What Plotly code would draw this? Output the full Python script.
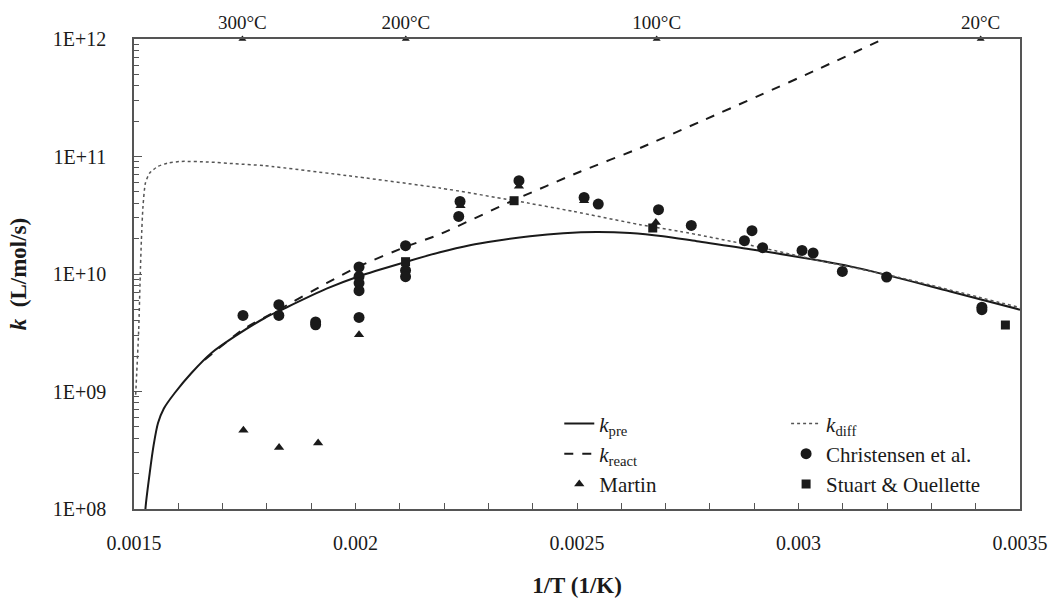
import plotly.graph_objects as go

# ---------------- data ----------------
# k_pre (solid)
pre_x = [0.001525, 0.0015258, 0.0015355, 0.0015445, 0.0015542, 0.0015671, 0.0015919,
         0.0016297, 0.0016748, 0.0017275, 0.0017952, 0.0018291, 0.0019346, 0.002008,
         0.0021153, 0.0021906, 0.0022583, 0.0023186, 0.0023939, 0.0024691, 0.0025445,
         0.0026197, 0.0026943, 0.0027704, 0.0028908, 0.0031167, 0.0033426, 0.0035]
pre_y = [7.0e7, 1.0e8, 2.03e8, 3.526e8, 5.39e8, 7.14e8, 9.71e8,
         1.437e9, 2.127e9, 2.943e9, 4.222e9, 4.872e9, 7.50e9, 9.58e9,
         1.273e10, 1.533e10, 1.759e10, 1.92e10, 2.097e10, 2.224e10, 2.278e10,
         2.233e10, 2.097e10, 1.901e10, 1.626e10, 1.161e10, 7.11e9, 4.97e9]

# k_react (dashed)
react_x = [0.0016597, 0.0017455, 0.0018291, 0.0019346, 0.002008, 0.0021153, 0.0021906,
           0.0023561, 0.0025068, 0.0026423, 0.0027779, 0.0029134, 0.0030489, 0.0031919]
react_y = [1.865e9, 3.357e9, 5.02e9, 8.35e9, 1.161e10, 1.717e10, 2.181e10,
           4.23e10, 7.42e10, 1.181e11, 1.978e11, 3.324e11, 5.64e11, 1.0e12]

# k_diff (dotted)
diff_x = [0.0015038, 0.0015106, 0.001514, 0.0015167, 0.0015203, 0.0015258, 0.0015355,
          0.0015542, 0.0015768, 0.0016071, 0.0016672, 0.0017275, 0.0017952, 0.0020008,
          0.0021906, 0.0023561, 0.0024917, 0.0026423, 0.0027327, 0.0028908, 0.0030331,
          0.0032296, 0.0035]
diff_y = [9.39e8, 3.357e9, 9.54e9, 1.958e10, 3.762e10, 5.95e10, 7.24e10,
          8.24e10, 8.80e10, 9.08e10, 8.98e10, 8.68e10, 8.35e10, 6.73e10,
          5.39e10, 4.23e10, 3.41e10, 2.628e10, 2.305e10, 1.759e10, 1.336e10,
          9.30e9, 5.17e9]

# Christensen et al. (circles)
chr_x = [0.001746, 0.001827, 0.001827, 0.001910, 0.001910, 0.002008, 0.002008, 0.002008,
         0.002008, 0.002008, 0.002113, 0.002113, 0.002113, 0.002236, 0.002233, 0.002369,
         0.002516, 0.002548, 0.002684, 0.002758, 0.002895, 0.002878, 0.002919, 0.003008,
         0.003033, 0.003099, 0.003199, 0.003414, 0.003414]
chr_y = [4.44e9, 5.48e9, 4.44e9, 3.905e9, 3.70e9, 1.147e10, 9.54e9, 8.38e9,
         7.21e9, 4.27e9, 1.741e10, 1.073e10, 9.48e9, 4.148e10, 3.092e10, 6.22e10,
         4.486e10, 3.94e10, 3.526e10, 2.593e10, 2.336e10, 1.92e10, 1.674e10, 1.588e10,
         1.509e10, 1.052e10, 9.43e9, 4.97e9, 5.22e9]

# Martin (triangles)
mar_x = [0.001747, 0.0018275, 0.0019156, 0.002008, 0.002237, 0.002369, 0.002516, 0.002678]
mar_y = [4.67e8, 3.345e8, 3.645e8, 3.04e9, 3.81e10, 5.57e10, 4.2e10, 2.75e10]

# Stuart & Ouellette (squares)
stu_x = [0.002113, 0.002358, 0.002671, 0.003467]
stu_y = [1.273e10, 4.205e10, 2.463e10, 3.68e9]

# temperature markers on the top axis
temps_c = [300, 200, 100, 20]
temp_labels = ["300°C", "200°C", "100°C", "20°C"]

x_ticks = [0.0015, 0.002, 0.0025, 0.003, 0.0035]
x_ticktext = ["0.0015", "0.002", "0.0025", "0.003", "0.0035"]
y_ticks = [1e8, 1e9, 1e10, 1e11, 1e12]
y_ticktext = ["1E+08", "1E+09", "1E+10", "1E+11", "1E+12"]

# ---------------- figure ----------------
FONT = "Liberation Serif"
INK = "#1a1a1a"
AXIS = "#555555"

fig = go.Figure()

fig.add_trace(go.Scatter(x=pre_x, y=pre_y, mode="lines", name="<i>k</i><sub>pre</sub>",
                         line=dict(color=INK, width=2, shape="spline", smoothing=0.8),
                         legend="legend"))
fig.add_trace(go.Scatter(x=react_x, y=react_y, mode="lines", name="<i>k</i><sub>react</sub>",
                         line=dict(color=INK, width=2, dash="dash", shape="spline", smoothing=0.6),
                         legend="legend"))
fig.add_trace(go.Scatter(x=diff_x, y=diff_y, mode="lines", name="<i>k</i><sub>diff</sub>",
                         line=dict(color="#555555", width=1.5, dash="dot", shape="spline", smoothing=0.6),
                         legend="legend2"))
fig.add_trace(go.Scatter(x=mar_x, y=mar_y, mode="markers", name="Martin",
                         marker=dict(symbol="triangle-up", size=9, color=INK), legend="legend"))
fig.add_trace(go.Scatter(x=chr_x, y=chr_y, mode="markers", name="Christensen et al.",
                         marker=dict(symbol="circle", size=11, color=INK), legend="legend2"))
fig.add_trace(go.Scatter(x=stu_x, y=stu_y, mode="markers", name="Stuart & Ouellette",
                         marker=dict(symbol="square", size=9, color=INK), legend="legend2"))

temp_x = [1.0 / (t + 273.15) for t in temps_c]
fig.add_trace(go.Scatter(x=temp_x, y=[1e12] * len(temps_c), mode="markers+text",
                         text=temp_labels, textposition="top center",
                         textfont=dict(family=FONT, size=19, color=INK),
                         marker=dict(symbol="triangle-up", size=7, color=INK),
                         cliponaxis=False, showlegend=False, hoverinfo="skip"))

minor_y = [m * 10 ** e for e in range(8, 12) for m in range(2, 10)]

fig.update_layout(
    width=1052, height=605,
    margin=dict(l=134, r=32, t=39, b=96),
    paper_bgcolor="white", plot_bgcolor="white",
    font=dict(family=FONT, size=20, color=INK),
    xaxis=dict(
        range=[0.0015, 0.0035], tickvals=x_ticks, ticktext=x_ticktext, automargin=False,
        tickfont=dict(family=FONT, size=20, color=INK),
        showline=True, linecolor=AXIS, linewidth=1.5, mirror=True,
        ticks="inside", ticklen=6, tickcolor=AXIS, ticklabelstandoff=15,
        minor=dict(ticks="inside", ticklen=6, dtick=0.0001, tick0=0.0015, tickcolor=AXIS),
        showgrid=False, zeroline=False,
        title=dict(text="<b>1/T (1/K)</b>", font=dict(family=FONT, size=23), standoff=24),
    ),
    yaxis=dict(
        type="log", range=[8, 12], tickvals=y_ticks, ticktext=y_ticktext, automargin=False,
        tickfont=dict(family=FONT, size=20, color=INK),
        showline=True, linecolor=AXIS, linewidth=1.5, mirror=True,
        ticks="inside", ticklen=8, tickcolor=AXIS, ticklabelstandoff=22,
        minor=dict(ticks="inside", ticklen=5, tickvals=minor_y, tickcolor=AXIS),
        showgrid=False, zeroline=False,
        title=dict(text="<b><i>k</i>  (L/mol/s)</b>", font=dict(family=FONT, size=23), standoff=20),
    ),
    legend=dict(x=0.48, y=0.225, xanchor="left", yanchor="top", bgcolor="rgba(0,0,0,0)",
                font=dict(family=FONT, size=21, color=INK), itemwidth=30, tracegroupgap=0),
    legend2=dict(x=0.736, y=0.225, xanchor="left", yanchor="top", bgcolor="rgba(0,0,0,0)",
                 font=dict(family=FONT, size=21, color=INK), itemwidth=30, tracegroupgap=0),
)

fig.write_html("out.html")
